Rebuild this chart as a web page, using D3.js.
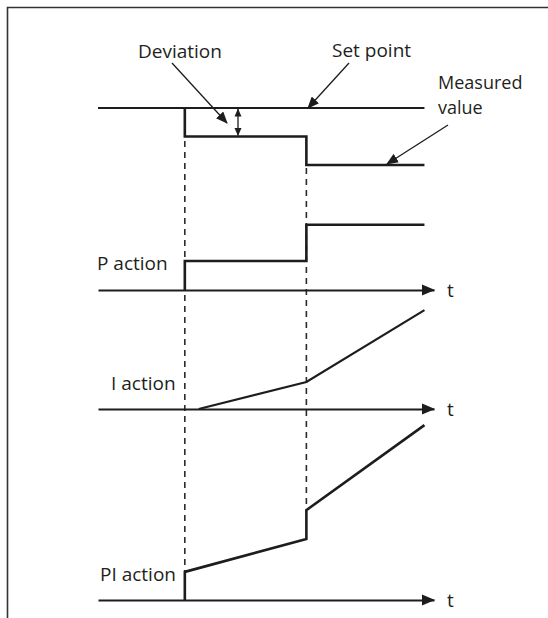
<!DOCTYPE html>
<html>
<head>
<meta charset="utf-8">
<script src="https://cdn.jsdelivr.net/npm/d3@7"></script>
<style>
  body { margin: 0; background: #fff; }
  text { font-family: "Open Sans", sans-serif; font-size: 19px; fill: #231f20; }
</style>
</head>
<body>
<svg id="chart" width="548" height="618"></svg>
<script>
// time instants (arbitrary units)
const tEvents = [1, 2.4];      // the two steps of the deviation
const tEnd = 3.76;
const tAxisEnd = 3.87;

// process values
const setPoint = [[0, 1], [tEnd, 1]];
const measured = [[1, 1], [1, 0.8], [2.4, 0.8], [2.4, 0.6], [tEnd, 0.6]];

// controller outputs
const pAction = [[1, 0], [1, 1], [2.4, 1], [2.4, 2.25], [tEnd, 2.25]];
const iAction = [[1.16, 0], [2.4, 0.93], [tEnd, 3.41]];
const piAction = [[1, 0], [1, 0.97], [2.4, 2.1], [2.4, 3.1], [tEnd, 6.03]];

const panelLabels = ["P action", "I action", "PI action"];
const axisLabel = "t";

const svg = d3.select("#chart");
const ink = "#1e1c1d";

const x = d3.scaleLinear().domain([0, tAxisEnd]).range([98, 434]);
const yProc = d3.scaleLinear().domain([0.6, 1]).range([165, 108]);
const yP = d3.scaleLinear().domain([0, 1]).range([290, 261]);
const yI = d3.scaleLinear().domain([0, 1]).range([409, 380]);
const yPI = d3.scaleLinear().domain([0, 1]).range([600, 571]);

// arrow heads for the annotation pointers
const defs = svg.append("defs");
defs.append("marker")
    .attr("id", "head")
    .attr("markerUnits", "userSpaceOnUse")
    .attr("viewBox", "0 0 12 10")
    .attr("refX", 11).attr("refY", 5)
    .attr("markerWidth", 12).attr("markerHeight", 10)
    .attr("orient", "auto-start-reverse")
    .append("path").attr("d", "M0,0L12,5L0,10z").attr("fill", ink);
defs.append("marker")
    .attr("id", "small")
    .attr("markerUnits", "userSpaceOnUse")
    .attr("viewBox", "0 0 8 8")
    .attr("refX", 7.5).attr("refY", 4)
    .attr("markerWidth", 8).attr("markerHeight", 8)
    .attr("orient", "auto-start-reverse")
    .append("path").attr("d", "M0,0.5L8,4L0,7.5z").attr("fill", ink);

// frame
svg.append("path")
    .attr("d", "M7.5,618V7.5H548")
    .attr("fill", "none").attr("stroke", "#333").attr("stroke-width", 1.6);

// dashed guides at the two step instants
const guideSpans = [[141, yPI(0.97)], [168, yPI(3.1)]];
tEvents.forEach((t, i) => {
    svg.append("line")
        .attr("x1", x(t)).attr("x2", x(t))
        .attr("y1", guideSpans[i][0]).attr("y2", guideSpans[i][1])
        .attr("stroke", "#2a2a2a").attr("stroke-width", 1.6)
        .attr("stroke-dasharray", "6,5");
});

// time axes
const axisYs = [yP(0), yI(0), yPI(0)];
axisYs.forEach((yy, i) => {
    const g = svg.append("g").attr("transform", `translate(0,${yy})`)
        .call(d3.axisBottom(x).ticks(0).tickSizeOuter(0));
    g.select(".domain").attr("stroke", ink).attr("stroke-width", 2);
    const xe = x.range()[1];
    svg.append("path")
        .attr("d", `M${xe - 12},${yy - 5.5}L${xe + 1},${yy}L${xe - 12},${yy + 5.5}z`)
        .attr("fill", ink);
    svg.append("text").attr("x", xe + 13).attr("y", yy + 7).text(axisLabel);
});

const line = (ys) => d3.line().x(d => x(d[0])).y(d => ys(d[1]));

function drawSeries(data, ys, width) {
    svg.append("path")
        .attr("d", line(ys)(data))
        .attr("fill", "none").attr("stroke", ink)
        .attr("stroke-width", width).attr("stroke-linejoin", "miter");
}

drawSeries(setPoint, yProc, 2);
drawSeries(measured, yProc, 2.6);
drawSeries(pAction, yP, 2.6);
drawSeries(iAction, yI, 2.2);
drawSeries(piAction, yPI, 2.6);

// labels
svg.append("text").attr("x", 138).attr("y", 58).text("Deviation");
svg.append("text").attr("x", 332).attr("y", 57).text("Set point");
svg.append("text").attr("x", 438).attr("y", 89).style("font-size", "18px").text("Measured");
svg.append("text").attr("x", 438).attr("y", 114).style("font-size", "18px").text("value");

const labelPos = [[97, 270], [111, 390], [100, 581]];
panelLabels.forEach((s, i) => {
    svg.append("text").attr("x", labelPos[i][0]).attr("y", labelPos[i][1]).text(s);
});

// pointer arrows
const pointers = [
    [[172, 63], [227, 123]],
    [[349, 63], [308, yProc(1)]],
    [[448, 125], [387, yProc(0.6) - 1]]
];
pointers.forEach(p => {
    svg.append("line")
        .attr("x1", p[0][0]).attr("y1", p[0][1])
        .attr("x2", p[1][0]).attr("y2", p[1][1])
        .attr("stroke", ink).attr("stroke-width", 1.3)
        .attr("marker-end", "url(#head)");
});

// deviation double arrow
svg.append("line")
    .attr("x1", 238).attr("x2", 238)
    .attr("y1", yProc(1) + 1).attr("y2", yProc(0.8) - 1)
    .attr("stroke", ink).attr("stroke-width", 1.3)
    .attr("marker-start", "url(#small)")
    .attr("marker-end", "url(#small)");
</script>
</body>
</html>
